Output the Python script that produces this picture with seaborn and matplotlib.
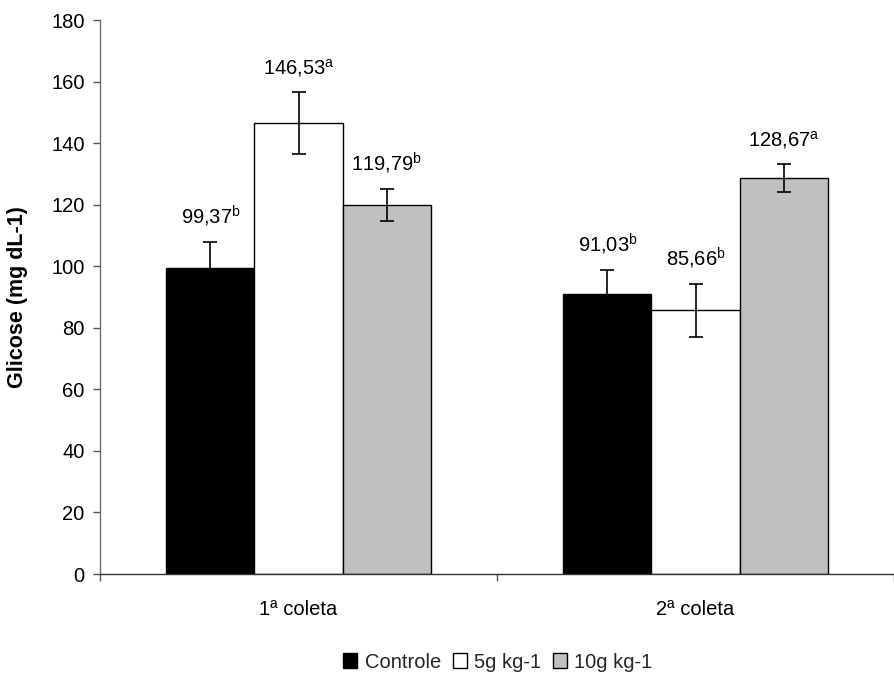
import matplotlib
matplotlib.use("Agg")
import matplotlib.pyplot as plt
from matplotlib.patches import Patch
import seaborn as sns
import pandas as pd
import numpy as np

# Blood glucose by collection and treatment
coletas = ["1ª coleta", "2ª coleta"]
tratamentos = ["Controle", "5g kg-1", "10g kg-1"]
glicose_1 = [99.37, 146.53, 119.79]
glicose_2 = [91.03, 85.66, 128.67]
erro_1 = [8.4, 10.1, 5.2]
erro_2 = [7.8, 8.5, 4.6]
letras_1 = ["b", "a", "b"]
letras_2 = ["b", "b", "a"]
cores = ["#000000", "#ffffff", "#c0c0c0"]

sns.set_theme(style="white")
plt.rcParams["font.family"] = ["Liberation Sans", "DejaVu Sans"]
plt.rcParams["mathtext.fontset"] = "custom"
plt.rcParams["mathtext.rm"] = "Liberation Sans"
plt.rcParams["mathtext.it"] = "Liberation Sans"

rows = []
for c, vals, errs, lets in [(coletas[0], glicose_1, erro_1, letras_1),
                            (coletas[1], glicose_2, erro_2, letras_2)]:
    for t, v, e, l in zip(tratamentos, vals, errs, lets):
        rows.append({"coleta": c, "tratamento": t, "glicose": v, "erro": e, "letra": l})
df = pd.DataFrame(rows)

W, H = 894, 682
fig = plt.figure(figsize=(W / 100, H / 100), dpi=100)
ax = fig.add_axes([100 / W, (H - 574) / H, 794 / W, 554 / H])

sns.barplot(data=df, x="coleta", y="glicose", hue="tratamento",
            order=coletas, hue_order=tratamentos, palette=cores,
            width=0.665, gap=0, errorbar=None, edgecolor="black",
            linewidth=1.0, legend=False, ax=ax)

# error bars and value labels on each bar
bars = sorted([p for p in ax.patches if p.get_height() > 0], key=lambda p: p.get_x())
for p in bars:
    cx = p.get_x() + p.get_width() / 2
    h = p.get_height()
    row = df[np.isclose(df["glicose"], h)].iloc[0]
    ax.errorbar(cx, h, yerr=row["erro"], color="black", capsize=5,
                elinewidth=1.2, capthick=1.2, fmt="none", zorder=5)
    txt = f"{row['glicose']:.2f}".replace(".", ",") + r"$^{\mathrm{" + row["letra"] + "}}$"
    ax.annotate(txt, (cx, h + row["erro"]), xytext=(0, 13),
                textcoords="offset points", ha="center", va="baseline",
                fontsize=14.5, color="black")

ax.set_xlim(-0.5, 1.485)
ax.set_ylim(0, 180)
ax.set_yticks(np.arange(0, 181, 20))
ax.tick_params(axis="y", which="major", left=True, length=5, width=1,
               color="#555555", pad=6, labelsize=14.5, labelcolor="black")

# category labels centred, ticks on the boundaries between categories
ax.set_xticks([-0.5, 0.5, 1.5])
ax.set_xticklabels([])
ax.set_xticks([0, 1], minor=True)
ax.set_xticklabels(coletas, minor=True)
ax.tick_params(axis="x", which="major", bottom=True, length=5, width=1, color="#555555")
ax.tick_params(axis="x", which="minor", bottom=False, length=0, pad=19,
               labelsize=14.5, labelcolor="black")
ax.set_xlabel("")

ax.set_ylabel("Glicose (mg dL-1)", fontsize=15.5, fontweight="bold", color="black")
ax.yaxis.set_label_coords(-0.091, 0.5)

for side in ["top", "right"]:
    ax.spines[side].set_visible(False)
ax.spines["left"].set_color("#6e6e6e")
ax.spines["bottom"].set_color("#333333")
ax.spines["left"].set_linewidth(1)
ax.spines["bottom"].set_linewidth(1)

handles = [Patch(facecolor=c, edgecolor="black", linewidth=1) for c in cores]
fig.legend(handles, tratamentos, loc="center",
           bbox_to_anchor=(498 / W, 1 - 662 / H), ncol=3, frameon=False,
           fontsize=14.5, handlelength=0.7, handleheight=0.7,
           handletextpad=0.35, columnspacing=0.6)

fig.savefig("out.png", dpi=100)
